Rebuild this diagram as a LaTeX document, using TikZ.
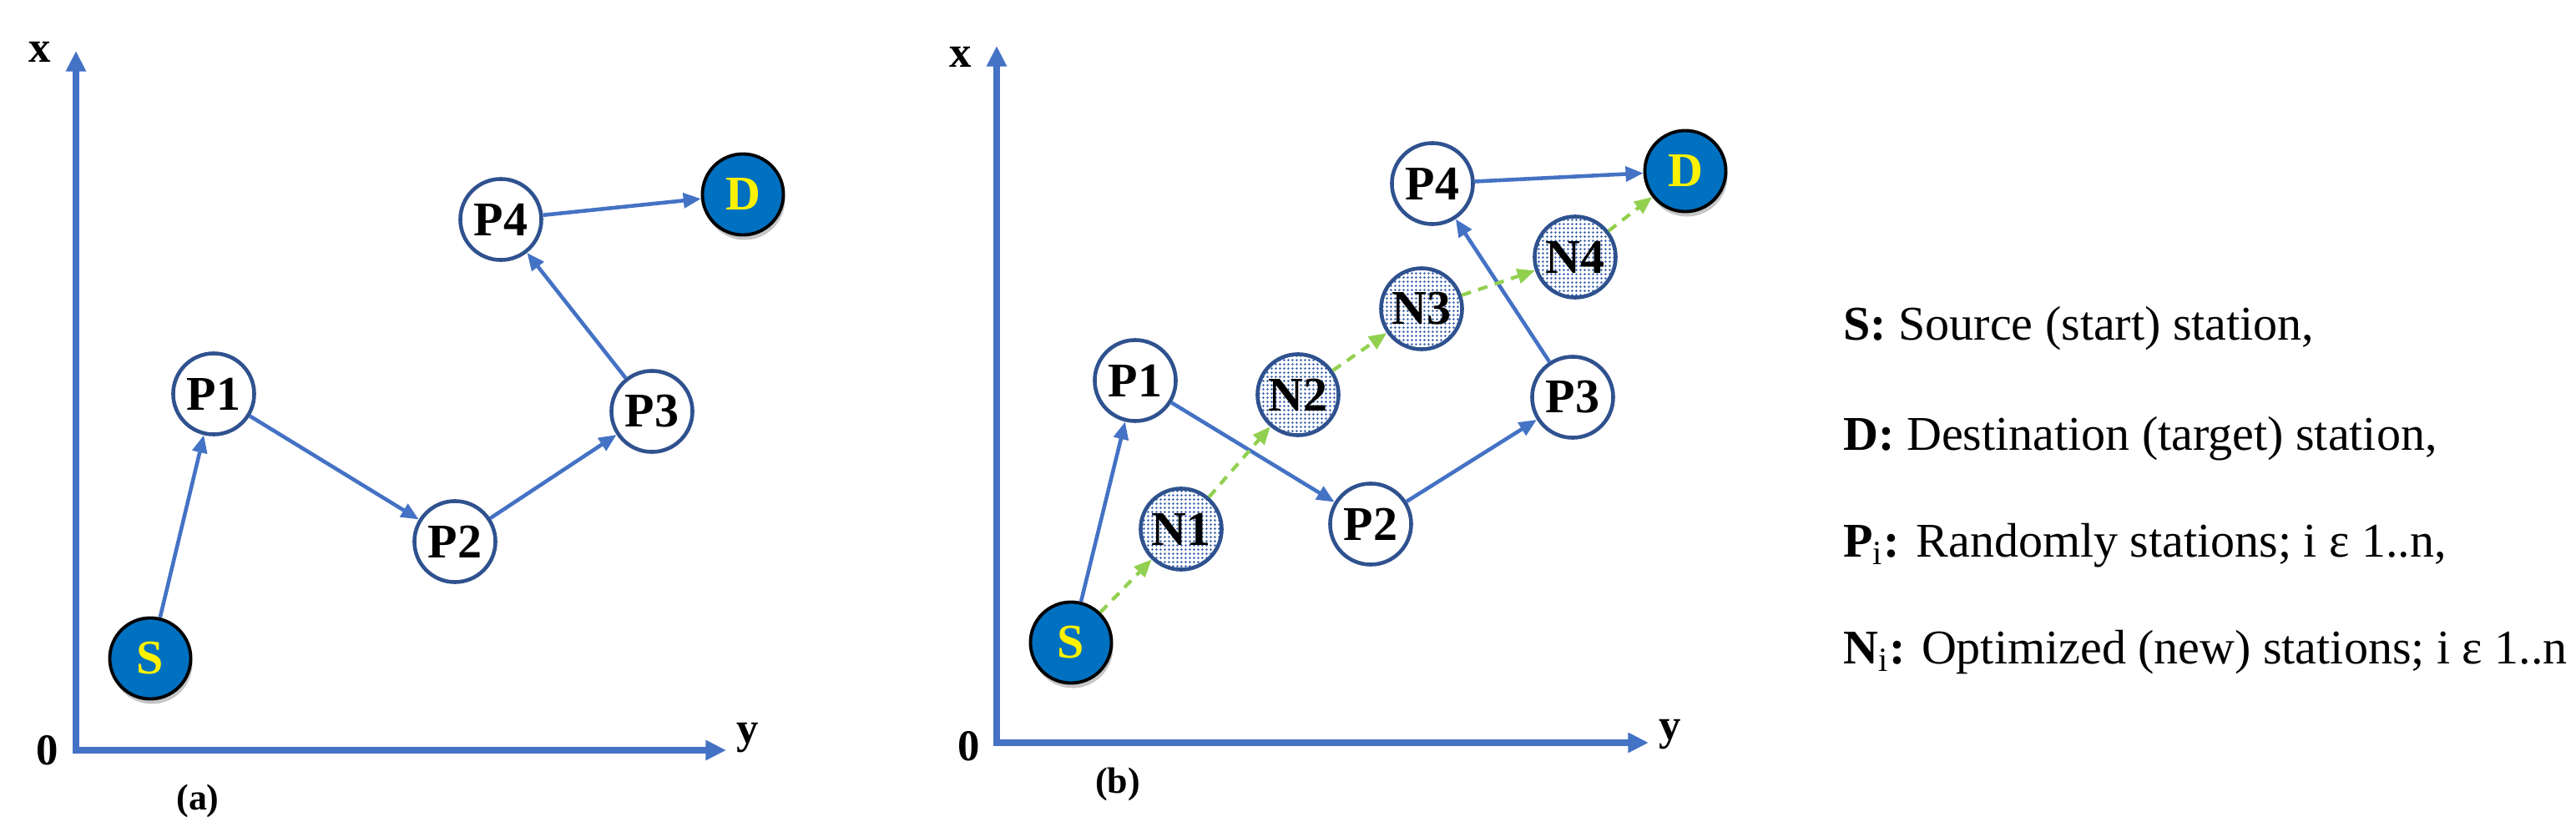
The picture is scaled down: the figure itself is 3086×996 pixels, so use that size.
\documentclass[tikz,border=0pt]{standalone}
\usepackage{fontspec}
\setmainfont{Liberation Serif}
\usetikzlibrary{arrows.meta,shadows,patterns.meta}

\definecolor{axisblue}{HTML}{4472C4}
\definecolor{ringblue}{HTML}{2F528F}
\definecolor{endblue}{HTML}{0070C0}
\definecolor{newgreen}{HTML}{92D050}
\definecolor{dotblue}{HTML}{3A64B0}

\tikzdeclarepattern{
  name=stationdots,
  type=uncolored,
  bottom left={(0pt,0pt)},
  top right={(1.4pt,1.4pt)},
  tile size={(1.4pt,1.4pt)},
  code={\fill (0.7pt,0.7pt) circle [radius=0.42pt];}
}

\begin{document}
\begin{tikzpicture}[x=0.01cm,y=0.01cm,
    station/.style={circle,draw=ringblue,line width=1.3pt,minimum size=0.97cm,inner sep=0pt,
      font=\fontsize{16.5}{18}\selectfont\bfseries},
    endstation/.style={station,draw=black,line width=1.1pt,fill=endblue,text=yellow,
      drop shadow={shadow xshift=0.2mm,shadow yshift=-0.6mm,opacity=0.45}},
    newstation/.style={station,pattern=stationdots,pattern color=dotblue},
    hop/.style={draw=axisblue,line width=1.3pt,-{Triangle[length=6pt,width=5pt]}},
    newhop/.style={draw=newgreen,line width=1.2pt,dash pattern=on 3.3pt off 2.6pt,
      -{Triangle[length=6pt,width=5pt]}},
    axis/.style={draw=axisblue,line width=2pt,
      {Triangle[length=7pt,width=6.5pt]}-{Triangle[length=7pt,width=6.5pt]}},
    axislabel/.style={font=\fontsize{15}{17}\selectfont\bfseries},
    legend/.style={anchor=base west,font=\fontsize{16.5}{19}\selectfont}]
  \useasboundingbox (0,0) rectangle (3086,996);

  % panel (a)
  \coordinate (oa) at (91,97);
  \coordinate (xa) at (91,935);
  \coordinate (ya) at (870,97);
  \draw[axis] (xa) -- (oa) -- (ya);
  \node[axislabel] (lxa) at (48,934) {x};
  \node[axislabel] (l0a) at (57,97) {0};
  \node[axislabel] (lya) at (896,112) {y};
  \node[font=\fontsize{12.5}{14}\selectfont\bfseries] (capa) at (237,36) {(a)};

  \node[endstation] (Sa) at (180,207) {S};
  \node[station] (P1a) at (256,524) {P1};
  \node[station] (P2a) at (545,347) {P2};
  \node[station] (P3a) at (781,503) {P3};
  \node[station] (P4a) at (600,733) {P4};
  \node[endstation] (Da) at (890,763) {D};

  \foreach \u/\v in {Sa/P1a,P1a/P2a,P2a/P3a,P3a/P4a,P4a/Da}
    \draw[hop] (\u) -- (\v);

  % panel (b)
  \coordinate (ob) at (1194,106);
  \coordinate (xb) at (1194,941);
  \coordinate (yb) at (1975,106);
  \draw[axis] (xb) -- (ob) -- (yb);
  \node[axislabel] (lxb) at (1151,928) {x};
  \node[axislabel] (l0b) at (1161,102) {0};
  \node[axislabel] (lyb) at (2001,116) {y};
  \node[font=\fontsize{12.5}{14}\selectfont\bfseries] (capb) at (1339,56) {(b)};

  \node[endstation] (Sb) at (1283,226) {S};
  \node[station] (P1b) at (1360,540) {P1};
  \node[station] (P2b) at (1642,368) {P2};
  \node[station] (P3b) at (1884,520) {P3};
  \node[station] (P4b) at (1716,776) {P4};
  \node[endstation] (Db) at (2019,791) {D};
  \node[newstation] (N1b) at (1415,362) {N1};
  \node[newstation] (N2b) at (1555,523) {N2};
  \node[newstation] (N3b) at (1703,626) {N3};
  \node[newstation] (N4b) at (1887,688) {N4};

  \foreach \u/\v in {Sb/P1b,P1b/P2b,P2b/P3b,P3b/P4b,P4b/Db}
    \draw[hop] (\u) -- (\v);
  \foreach \u/\v in {Sb/N1b,N1b/N2b,N2b/N3b,N3b/N4b,N4b/Db}
    \draw[newhop] (\u) -- (\v);

  % legend
  \node[legend] (legS) at (2196,588) {\textbf{S:} Source (start) station,};
  \node[legend] (legD) at (2196,457) {\textbf{D:} Destination (target) station,};
  \node[legend] (legP) at (2196,329) {\textbf{P\textsubscript{\mdseries i}:} Randomly stations; i ε 1..n,};
  \node[legend] (legN) at (2196,201) {\textbf{N\textsubscript{\mdseries i}:} Optimized (new) stations; i ε 1..n};
\end{tikzpicture}
\end{document}
